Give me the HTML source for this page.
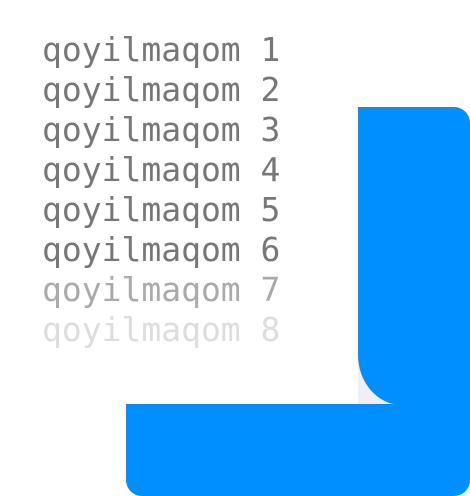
<!DOCTYPE html>
<html><head><style>
body{margin:0;width:470px;height:496px;background:#fff;position:relative;overflow:hidden}
.t{position:absolute;left:42px;top:30px;font-family:"DejaVu Sans Mono","Liberation Mono",monospace;font-size:33px;line-height:40px;color:#777;white-space:pre}
</style></head><body>
<div style="position:absolute;left:358px;top:350px;width:46px;height:54px;background:#efeff4"></div>
<div style="position:absolute;left:358px;top:107px;width:112px;height:298px;background:#008ffe;border-radius:0 16px 0 44px / 0 16px 0 50px"></div>
<div style="position:absolute;left:126px;top:404px;width:344px;height:92px;background:#008ffe;border-radius:0 0 16px 16px"></div>
<div class="t">qoyilmaqom 1
qoyilmaqom 2
qoyilmaqom 3
qoyilmaqom 4
qoyilmaqom 5
qoyilmaqom 6
<span style="color:#aaa">qoyilmaqom 7</span>
<span style="color:#ddd">qoyilmaqom 8</span></div>
</body></html>
